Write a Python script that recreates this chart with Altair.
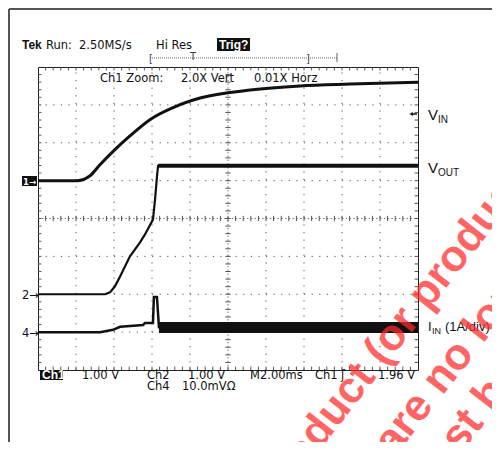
import altair as alt
import pandas as pd
import numpy as np

# ---------------- data ----------------
# time in ms (M2.00ms/div, 10 div), amplitude in screen divisions (8 div)
vin_t = [0, 2.05, 2.74, 3.26, 4.05, 4.84, 5.89, 7.21, 8.53, 11.16, 13.79, 16.42, 20]
vin_v = [1.0, 1.0, 1.13, 1.42, 1.82, 2.18, 2.61, 2.95, 3.18, 3.39, 3.5, 3.55, 3.6]

vout_t = [0, 3.53, 3.79, 4.05, 4.32, 4.84, 5.37, 5.63, 6.05, 6.16, 6.26, 6.32, 20]
vout_v = [-2.0, -2.0, -1.95, -1.79, -1.53, -1.0, -0.63, -0.42, -0.03, 0.5, 1.1, 1.39, 1.39]

iin_t = [0, 3.26, 3.95, 4.32, 5.53, 5.63, 6.05, 6.1, 6.26, 6.37]
iin_v = [-3.0, -3.0, -2.94, -2.86, -2.81, -2.76, -2.76, -2.07, -2.07, -2.9]

band_t = [6.37, 20]
band_lo = [-3.02, -3.02]
band_hi = [-2.73, -2.73]

XMAX, YMIN, YMAX = 20, -4, 4


def px_x(px):
    return (px - 38) / 19.0


def px_y(py):
    return (218.5 - py) / 37.875


xs = alt.Scale(domain=[0, XMAX], nice=False, zero=False)
ys = alt.Scale(domain=[YMIN, YMAX], nice=False, zero=False)
X = lambda f="x": alt.X(f"{f}:Q", scale=xs, axis=None)
Y = lambda f="y": alt.Y(f"{f}:Q", scale=ys, axis=None)

# ---------------- graticule ----------------
major_x = [2, 4, 6, 8, 12, 14, 16, 18]
major_y = [-3, -2, -1, 1, 2, 3]
grid = pd.DataFrame(
    [dict(x=v, x2=v, y=YMIN, y2=YMAX) for v in major_x]
    + [dict(x=0, x2=XMAX, y=v, y2=v) for v in major_y]
)
grid_layer = alt.Chart(grid).mark_rule(color="#555", strokeWidth=1, strokeDash=[1.2, 6.4]).encode(
    x=X(), x2="x2:Q", y=Y(), y2="y2:Q")

center = pd.DataFrame([dict(x=10, x2=10, y=YMIN, y2=YMAX), dict(x=0, x2=XMAX, y=0, y2=0)])
center_layer = alt.Chart(center).mark_rule(color="#777", strokeWidth=1, strokeDash=[1.5, 2.3]).encode(
    x=X(), x2="x2:Q", y=Y(), y2="y2:Q")

minor_x = np.round(np.arange(0.4, XMAX, 0.4), 3)
minor_y = np.round(np.arange(-3.8, 4.0, 0.2), 3)
tk = []
for v in minor_x:
    tk.append(dict(x=v, x2=v, y=YMAX, y2=YMAX - 0.09))
    tk.append(dict(x=v, x2=v, y=YMIN, y2=YMIN + 0.09))
    tk.append(dict(x=v, x2=v, y=-0.07, y2=0.07))
for v in minor_y:
    tk.append(dict(x=0, x2=0.18, y=v, y2=v))
    tk.append(dict(x=XMAX, x2=XMAX - 0.18, y=v, y2=v))
    tk.append(dict(x=9.86, x2=10.14, y=v, y2=v))
tick_layer = alt.Chart(pd.DataFrame(tk)).mark_rule(color="#555", strokeWidth=1).encode(
    x=X(), x2="x2:Q", y=Y(), y2="y2:Q")

# outer frame of the screenshot
frame = pd.DataFrame([dict(x=px_x(9), x2=px_x(500), y=px_y(9), y2=px_y(9)),
                      dict(x=px_x(9), x2=px_x(9), y=px_y(9), y2=px_y(450))])
frame_layer = alt.Chart(frame).mark_rule(color="#555", strokeWidth=2).encode(
    x=X(), x2="x2:Q", y=Y(), y2="y2:Q")

# record bar above the screen
rec = pd.DataFrame([dict(x=px_x(150), x2=px_x(337), y=px_y(58), y2=px_y(58))])
rec_layer = alt.Chart(rec).mark_rule(color="#666", strokeWidth=1, strokeDash=[1, 1]).encode(
    x=X(), x2="x2:Q", y=Y(), y2="y2:Q")
rec_end = pd.DataFrame([dict(x=px_x(337), x2=px_x(337), y=px_y(53), y2=px_y(62))])
rec_end_layer = alt.Chart(rec_end).mark_rule(color="#666", strokeWidth=1).encode(
    x=X(), x2="x2:Q", y=Y(), y2="y2:Q")

# ---------------- traces ----------------
vin_df = pd.DataFrame({"x": vin_t, "y": vin_v})
vout_df = pd.DataFrame({"x": vout_t, "y": vout_v})
iin_df = pd.DataFrame({"x": iin_t, "y": iin_v})
band_df = pd.DataFrame({"x": band_t, "lo": band_lo, "hi": band_hi})

vin_layer = alt.Chart(vin_df).mark_line(color="#111", strokeWidth=3, interpolate="monotone").encode(x=X(), y=Y())
vout_layer = alt.Chart(vout_df).mark_line(color="#111", strokeWidth=2.2).encode(x=X(), y=Y())
vout_flat = alt.Chart(vout_df.iloc[-2:]).mark_line(color="#111", strokeWidth=4).encode(x=X(), y=Y())
iin_layer = alt.Chart(iin_df).mark_line(color="#111", strokeWidth=2.5).encode(x=X(), y=Y())
band_layer = alt.Chart(band_df).mark_area(color="#111").encode(x=X(), y=Y("lo"), y2="hi:Q")

# ---------------- inverted boxes ----------------
boxes = pd.DataFrame([
    dict(x=px_x(217), x2=px_x(250), y=px_y(38), y2=px_y(51)),   # Trig?
    dict(x=px_x(40), x2=px_x(63), y=px_y(370), y2=px_y(380)),   # Ch1
    dict(x=px_x(22), x2=px_x(37), y=px_y(176), y2=px_y(186)),   # 1->
])
box_layer = alt.Chart(boxes).mark_rect(color="#111").encode(x=X(), x2="x2:Q", y=Y(), y2="y2:Q")

# ---------------- texts ----------------
def T(rows):
    return pd.DataFrame([dict(text=t, x=px_x(a), y=px_y(b)) for t, a, b in rows])


def text_layer(rows, **kw):
    base = dict(align="left", baseline="alphabetic", font="DejaVu Sans", fontSize=11.5, color="#111")
    base.update(kw)
    return alt.Chart(T(rows)).mark_text(**base).encode(x=X(), y=Y(), text="text:N")


scope_rows = [
    ("Run:", 46, 49), ("2.50MS/s", 79, 49), ("Hi Res", 156, 49),
    ("Ch1 Zoom:", 100, 82), ("2.0X Vert", 181, 82), ("0.01X Horz", 254, 82),
    ("1.00 V", 82, 379), ("Ch2", 147, 379), ("1.00 V", 188, 379),
    ("Ch4", 147, 390), ("10.0mV\u03a9", 182, 390),
    ("M2.00ms", 250, 379), ("Ch1", 315, 379), ("\u0283", 341, 379), ("1.96 V", 378, 379),
    ("2\u2192", 22, 299), ("4\u2192", 22, 337),
]
scope_text = text_layer(scope_rows)
tek_text = text_layer([("Tek", 22, 49)], font="Liberation Sans", fontSize=12, fontWeight="bold")
inv_text = text_layer([("Trig?", 219, 49), ("Ch1", 42, 379)],
                      color="white", fontWeight="bold", font="Liberation Sans", fontSize=12)
inv_one = text_layer([("1\u2192", 23, 185)], color="white", fontWeight="bold", fontSize=8.5)
rec_text = text_layer([("[", 149, 62), ("T", 190, 60), ("]", 306, 62)], color="#444", fontSize=10)

lab_big = text_layer([("V", 428, 120), ("V", 428, 173)], font="Liberation Sans", fontSize=15)
lab_sub = text_layer([("IN", 438, 123), ("OUT", 438, 176)], font="Liberation Sans", fontSize=10)
lab_i = text_layer([("I", 428, 331), ("(1A/div)", 445, 331)], font="Liberation Sans", fontSize=13)
lab_isub = text_layer([("IN", 432, 334)], font="Liberation Sans", fontSize=9)

arrow = pd.DataFrame([dict(x=px_x(411), y=px_y(114))])
arrow_layer = alt.Chart(arrow).mark_point(shape="triangle-left", filled=True, size=22, color="#111").encode(x=X(), y=Y())
arrow_line = alt.Chart(pd.DataFrame([dict(x=px_x(411), x2=px_x(417), y=px_y(114), y2=px_y(114))])).mark_rule(
    color="#111", strokeWidth=1.5).encode(x=X(), x2="x2:Q", y=Y(), y2="y2:Q")

# ---------------- watermark ----------------
wm_rows = [
    ("product (or products)", 276, 506),
    ("are no longer", 394, 458),
    ("must be", 420, 506),
]
wm_layer = text_layer(wm_rows, font="Liberation Sans", fontSize=44, fontWeight="bold",
                      color="#ff2a2a", opacity=0.72, angle=308)

chart = alt.layer(
    frame_layer, grid_layer, center_layer, tick_layer, rec_layer, rec_end_layer,
    vin_layer, vout_layer, vout_flat, iin_layer, band_layer,
    box_layer, scope_text, tek_text, inv_text, inv_one, rec_text,
    lab_big, lab_sub, lab_i, lab_isub, arrow_layer, arrow_line,
    wm_layer,
).properties(
    width=380, height=303,
    padding={"left": 30, "top": 59, "right": 74, "bottom": 72},
    autosize=alt.AutoSizeParams(type="none"),
    background="white",
).configure_view(stroke="#222", strokeWidth=1)

chart.save("out.html", embed_options={"renderer": "svg", "actions": False})
